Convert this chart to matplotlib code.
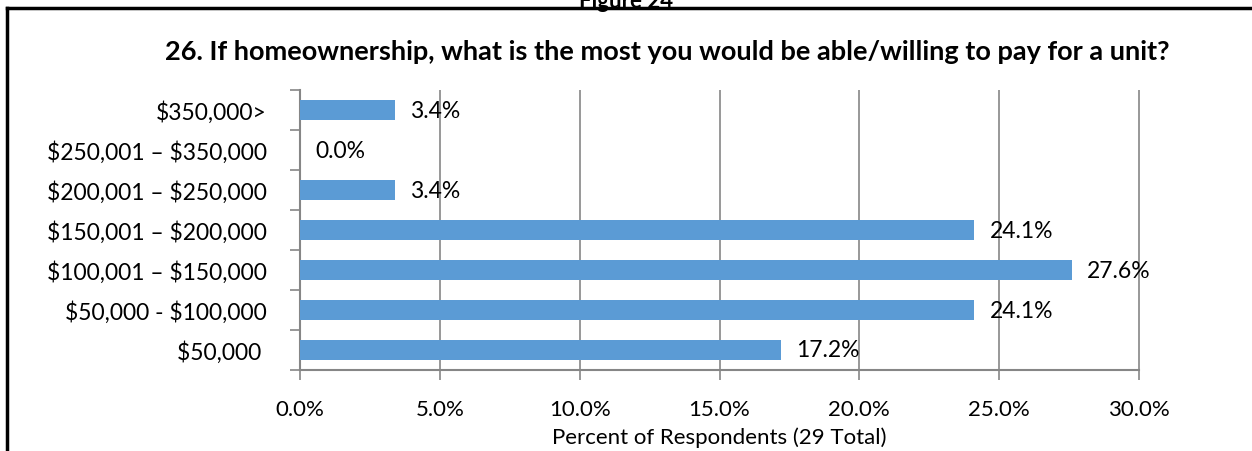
import matplotlib.pyplot as plt
from matplotlib.lines import Line2D
from matplotlib.ticker import MultipleLocator, FixedLocator, PercentFormatter

plt.rcParams['font.family'] = ['Lato', 'DejaVu Sans']
plt.rcParams['text.parse_math'] = False

# price ranges, listed bottom to top
categories = ['$50,000 ', '$50,000 - $100,000', '$100,001 – $150,000',
              '$150,001 – $200,000', '$200,001 – $250,000',
              '$250,001 – $350,000', '$350,000>']
percents = [17.2, 24.1, 27.6, 24.1, 3.4, 0.0, 3.4]
gridlines = [5, 10, 15, 20, 25, 30]

fig = plt.figure(figsize=(12.52, 4.52), dpi=100)
ax = fig.add_axes([300 / 1252, 1 - 371 / 452, 839 / 1252, 280 / 452])

grey = '#868686'
pos = range(len(categories))
ax.barh(pos, percents, height=0.5, color='#5B9BD5', zorder=3)
for y, v in zip(pos, percents):
    ax.text(v + 0.55, y, f'{v:.1f}%', va='center', ha='left', fontsize=16.5, zorder=4)

ax.set_xlim(0, 30)
ax.set_ylim(-0.5, len(categories) - 0.5)
ax.xaxis.set_major_locator(MultipleLocator(5))
ax.xaxis.set_major_formatter(PercentFormatter(decimals=1))
ax.vlines(gridlines, -0.5, len(categories) - 0.5, color=grey, linewidth=1.2,
          zorder=0, clip_on=False)

ax.set_yticks(list(pos))
ax.set_yticklabels(categories, fontsize=16.5)
ax.yaxis.set_minor_locator(FixedLocator([i - 0.5 for i in range(len(categories) + 1)]))
ax.tick_params(axis='y', which='major', length=0, pad=24)
ax.tick_params(axis='y', which='minor', length=7, color=grey, width=1.2)
ax.tick_params(axis='x', length=7, color=grey, width=1.2, labelsize=16, pad=14)

for s in ['top', 'right']:
    ax.spines[s].set_visible(False)
for s in ['left', 'bottom']:
    ax.spines[s].set_color(grey)
    ax.spines[s].set_linewidth(1.5)

ax.set_xlabel('Percent of Respondents (29 Total)', fontsize=16, labelpad=5)
fig.text(667 / 1252, 1 - 52 / 452, '26. If homeownership, what is the most you would be able/willing to pay for a unit?',
         ha='center', va='center', fontsize=19.5, fontweight='bold')
fig.text(0.5, 1 - 1 / 452, 'Figure 24', ha='center', va='center', fontsize=16, fontweight='bold')

# frame around the chart
fig.add_artist(Line2D([7 / 1252, 1], [1 - 9 / 452, 1 - 9 / 452], color='black', linewidth=2.5))
fig.add_artist(Line2D([7 / 1252, 7 / 1252], [0, 1 - 9 / 452], color='black', linewidth=2.5))

fig.savefig('out.png', dpi=100)
